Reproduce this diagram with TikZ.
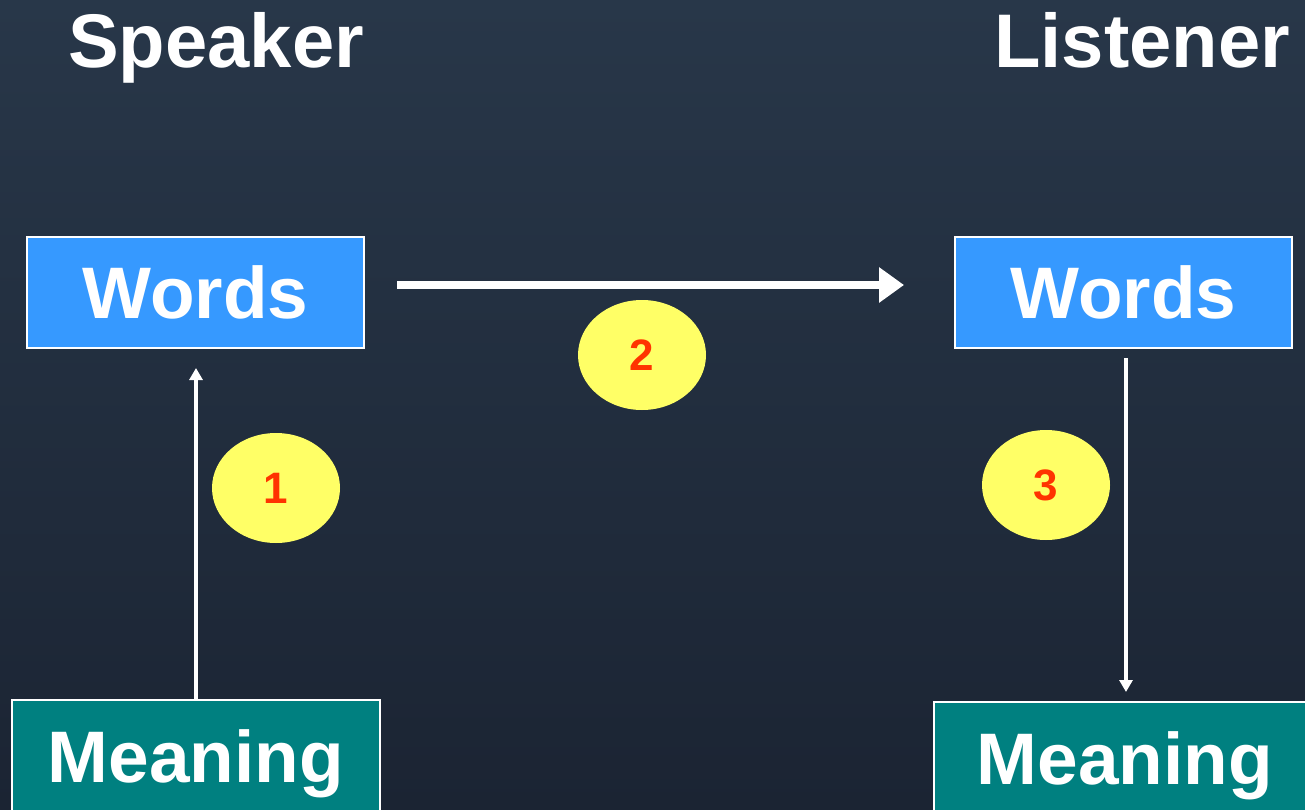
\documentclass[tikz,border=0pt]{standalone}
\usepackage{fontspec}
\setmainfont{Liberation Sans}
\usetikzlibrary{arrows.meta,shapes.geometric}
\definecolor{bgtop}{RGB}{40,55,73}
\definecolor{bgbot}{RGB}{27,36,51}
\definecolor{wordsblue}{RGB}{54,153,255}
\definecolor{meanteal}{RGB}{0,128,128}
\definecolor{badgey}{RGB}{255,255,102}
\definecolor{badgered}{RGB}{255,51,0}
\tikzset{
  wordsbox/.style={draw=white, line width=2pt, fill=wordsblue, text=white,
    minimum width=337pt, minimum height=111pt, inner sep=0pt,
    font=\bfseries\fontsize{73}{73}\selectfont},
  meanbox/.style={draw=white, line width=2pt, fill=meanteal, text=white,
    minimum height=112pt, inner sep=0pt, text depth=0pt,
    font=\bfseries\fontsize{73}{73}\selectfont},
  badge/.style={ellipse, fill=badgey, text=badgered, minimum width=128pt,
    minimum height=110pt, inner sep=0pt, font=\bfseries\fontsize{44}{44}\selectfont},
  title/.style={text=white, anchor=base, inner sep=0pt,
    font=\bfseries\fontsize{76}{76}\selectfont},
  thinarr/.style={draw=white, line width=4.5pt, -{Triangle[length=12pt,width=13pt]}},
  thickarr/.style={draw=white, line width=8pt, -{Triangle[length=25pt,width=34pt]}},
}
\begin{document}
\begin{tikzpicture}[x=1pt,y=-1pt]
\useasboundingbox (0,0) rectangle (1305,810);
\clip (0,0) rectangle (1305,810);
\shade[top color=bgtop, bottom color=bgbot] (0,0) rectangle (1305,810);

\node[title] (speaker) at (216,68) {Speaker};
\node[title] (listener) at (1142,68) {Listener};

\node[wordsbox] (w1) at (195.5,292.5) {Words};
\node[wordsbox] (w2) at (1123.5,292.5) {Words};

\node[meanbox, minimum width=368pt] (m1) at (196,756) {Meaning};
\node[meanbox, minimum width=382pt] (m2) at (1125,758) {Meaning};

\node[badge] (b1) at (276,488) {1};
\node[badge] (b2) at (642,355) {2};
\node[badge] (b3) at (1046,485) {3};

\draw[thinarr, shorten >=19pt] (m1.north) -- (m1.north |- w1.south);
\draw[thickarr, shorten <=32pt, shorten >=50pt] ([yshift=7.5pt]w1.east) -- ([yshift=7.5pt]w2.west);
\coordinate (w2s) at ([xshift=2.5pt]w2.south);
\draw[thinarr, shorten <=9pt, shorten >=9pt] (w2s) -- (w2s |- m2.north);
\end{tikzpicture}
\end{document}
